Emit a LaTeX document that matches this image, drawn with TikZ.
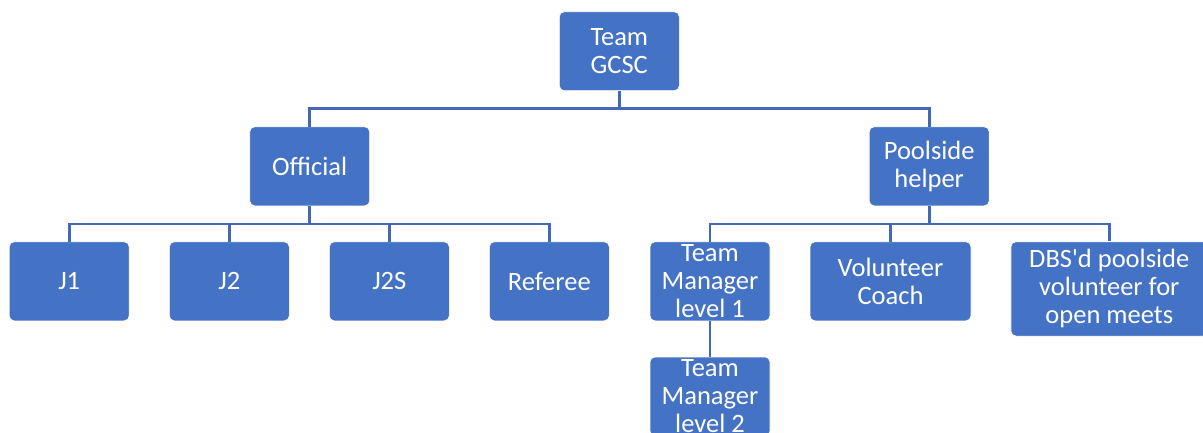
\documentclass[tikz,border=0pt]{standalone}
\usepackage{fontspec}
\setmainfont{Carlito}[Ligatures=TeXOff]
\definecolor{boxblue}{HTML}{4472C4}
\definecolor{lineblue}{HTML}{4169B8}
\tikzset{
  orgbox/.style={rectangle, rounded corners=5pt, fill=boxblue, draw=white, line width=0.6pt,
    text=white, align=center, inner sep=0pt, minimum width=120pt, minimum height=79pt,
    font=\fontsize{26.5}{28}\selectfont},
  conn/.style={draw=lineblue, line width=2.6pt}
}
\begin{document}
\begin{tikzpicture}[x=1pt,y=-1pt]
\useasboundingbox (0,0) rectangle (1203,432);
\clip (0,0) rectangle (1203,432);
\node[orgbox] (top) at (619.3,51.2) {Team\\GCSC};
\node[orgbox] (off) at (309.7,166.3) {Official};
\node[orgbox] (pool) at (929.2,166.3) {Poolside\\helper};
\node[orgbox] (j1) at (69.2,281.3) {J1};
\node[orgbox] (j2) at (229.3,281.3) {J2};
\node[orgbox] (j2s) at (389.3,281.3) {J2S};
\node[orgbox] (ref) at (549.3,281.3) {Referee};
\node[orgbox] (tm1) at (710,281.3) {Team\\Manager\\level 1};
\node[orgbox, minimum width=161pt] (vc) at (890.5,281.3) {Volunteer\\Coach};
\node[orgbox, minimum width=196.7pt, minimum height=94.3pt] (dbs) at (1109.3,288.9) {DBS'd poolside\\volunteer for\\open meets};
\node[orgbox] (tm2) at (710,396.5) {Team\\Manager\\level 2};
\foreach \c in {off,pool} \draw[conn] (top.south) -- ++(0,17.3) -| (\c.north);
\foreach \c in {j1,j2,j2s,ref} \draw[conn] (off.south) -- ++(0,18) -| (\c.north);
\foreach \c in {tm1,vc,dbs} \draw[conn] (pool.south) -- ++(0,18) -| (\c.north);
\draw[conn] (tm1.south) -- (tm2.north);
\end{tikzpicture}
\end{document}
